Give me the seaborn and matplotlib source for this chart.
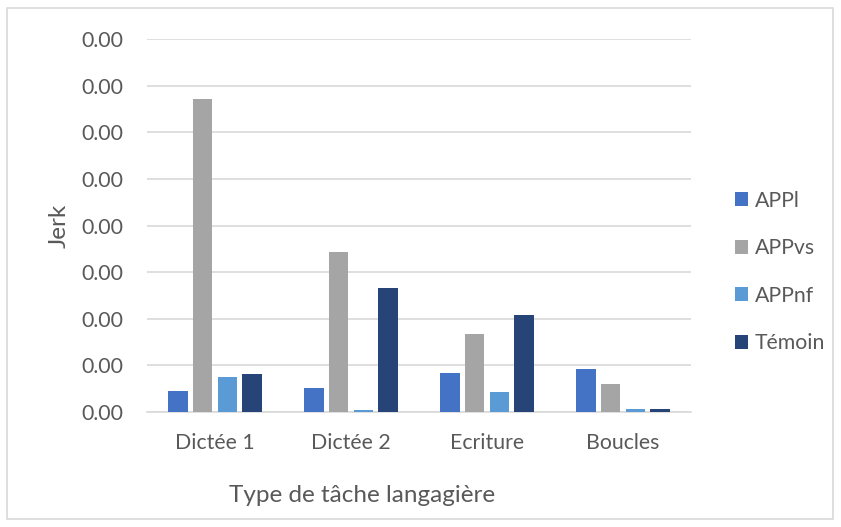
import pandas as pd
import numpy as np
import matplotlib
matplotlib.use("Agg")
import matplotlib.pyplot as plt
from matplotlib.patches import Rectangle
from matplotlib.ticker import FormatStrFormatter
import seaborn as sns

# données (jerk moyen)
taches = ["Dictée 1", "Dictée 2", "Ecriture", "Boucles"]
groupes = ["APPl", "APPvs", "APPnf", "Témoin"]
appl = [0.00022, 0.00026, 0.00042, 0.00046]
appvs = [0.00336, 0.001715, 0.00084, 0.000305]
appnf = [0.000375, 0.000025, 0.000215, 0.00003]
temoin = [0.000405, 0.00133, 0.001045, 0.00003]
couleurs = ["#4472C4", "#A5A5A5", "#5B9BD5", "#264478"]

df = pd.DataFrame({
    "tache": taches * 4,
    "groupe": np.repeat(groupes, 4),
    "jerk": appl + appvs + appnf + temoin,
})

sns.set_style("white")
plt.rcParams["font.family"] = ["Lato", "DejaVu Sans"]
gris = "#595959"

fig = plt.figure(figsize=(8.41, 5.27), dpi=100)
ax = fig.add_axes([147 / 841, 1 - 412 / 527, 544 / 841, 373 / 527])

sns.barplot(data=df, x="tache", y="jerk", hue="groupe", palette=couleurs,
            saturation=1, width=0.73, gap=0.21, linewidth=0, ax=ax, zorder=3)

ax.set_ylim(0, 0.004)
ax.set_yticks(np.arange(0, 0.00401, 0.0005))
ax.yaxis.set_major_formatter(FormatStrFormatter("%.2f"))
ax.grid(axis="y", color="#D9D9D9", linewidth=1.2, zorder=0)
ax.set_axisbelow(True)
for s in ["top", "right", "left"]:
    ax.spines[s].set_visible(False)
ax.spines["bottom"].set_color("#D9D9D9")
ax.spines["bottom"].set_linewidth(1.2)
ax.tick_params(axis="both", length=0, labelsize=15.3, colors=gris)
ax.tick_params(axis="x", pad=15)
ax.tick_params(axis="y", pad=17)

ax.set_xlabel("Type de tâche langagière", fontsize=17.5, color=gris)
ax.set_ylabel("Jerk", fontsize=17.5, color=gris)
ax.xaxis.set_label_coords((362 - 147) / 544, (412 - 495) / 373)
ax.xaxis.label.set_va("center")
ax.yaxis.set_label_coords((59 - 147) / 544, 0.5)
ax.yaxis.label.set_va("center")

ax.legend(loc="center left", bbox_to_anchor=(726 / 841, 1 - 272 / 527),
          bbox_transform=fig.transFigure, frameon=False, fontsize=15.3,
          borderaxespad=0, handlelength=0.65, handleheight=0.65,
          handletextpad=0.3, labelspacing=1.3, labelcolor=gris)

# cadre du graphique
fig.patches.append(Rectangle((7 / 841, 8 / 527), 826 / 841, 511 / 527,
                             transform=fig.transFigure, fill=False,
                             edgecolor="#D9D9D9", linewidth=1.2))

fig.savefig("out.png", dpi=100)
